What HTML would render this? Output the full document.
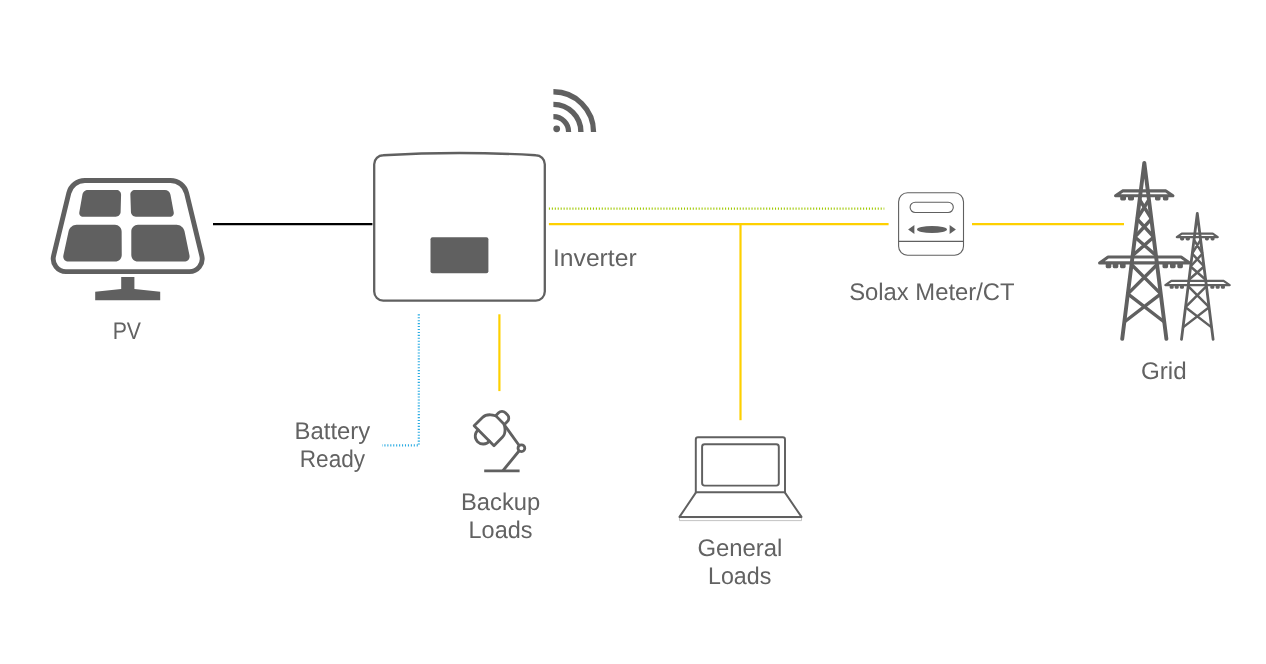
<!DOCTYPE html>
<html lang="en">
<head>
<meta charset="utf-8">
<title>Solax system diagram</title>
<style>
html,body{margin:0;padding:0;background:#fff;}
body{width:1266px;height:664px;overflow:hidden;font-family:"Liberation Sans",sans-serif;}
svg{display:block;will-change:transform;}
</style>
</head>
<body>
<svg width="1266" height="664" viewBox="0 0 1266 664">
<rect width="1266" height="664" fill="#fff"/>
<g id="pv">
<path d="M68.80 193.08 C70.59 185.67 77.23 180.45 84.86 180.45 L170.54 180.45 C178.17 180.45 184.81 185.67 186.60 193.08 L201.82 255.86 C203.76 263.84 197.65 271.60 189.44 271.60 L65.96 271.60 C57.75 271.60 51.64 263.84 53.58 255.86 Z" fill="none" stroke="#606060" stroke-width="4.9" stroke-linejoin="round"/>
<path d="M82.39 194.73 C82.83 192.18 85.31 190.10 87.90 190.10 L116.50 190.10 C119.09 190.10 121.14 192.21 121.08 194.80 L120.62 212.10 C120.56 214.69 118.39 216.80 115.80 216.80 L83.20 216.80 C80.61 216.80 78.87 214.72 79.31 212.17 Z" fill="#606060"/>
<path d="M130.36 194.80 C130.27 192.21 132.31 190.10 134.90 190.10 L164.90 190.10 C167.49 190.10 169.99 192.18 170.47 194.72 L173.73 212.18 C174.21 214.72 172.49 216.80 169.90 216.80 L135.80 216.80 C133.21 216.80 131.03 214.69 130.94 212.10 Z" fill="#606060"/>
<path d="M68.60 231.25 C69.37 227.70 72.97 224.80 76.60 224.80 L115.00 224.80 C118.63 224.80 121.62 227.77 121.64 231.40 L121.76 255.00 C121.78 258.63 118.83 261.60 115.20 261.60 L68.60 261.60 C64.97 261.60 62.63 258.70 63.40 255.15 Z" fill="#606060"/>
<path d="M131.30 231.40 C131.30 227.77 134.27 224.80 137.90 224.80 L176.60 224.80 C180.23 224.80 183.80 227.71 184.53 231.26 L189.47 255.14 C190.20 258.69 187.83 261.60 184.20 261.60 L137.90 261.60 C134.27 261.60 131.30 258.63 131.30 255.00 Z" fill="#606060"/>
<path d="M121.2 277.1 H134.4 V289.1 L160.2 291.8 V300.3 H95.2 V291.8 L121.2 289.1 Z" fill="#606060"/>
</g>
<g id="lines" fill="none">
<line x1="213" y1="224.15" x2="372.4" y2="224.15" stroke="#000" stroke-width="2.2"/>
<line x1="548.9" y1="224.15" x2="888.6" y2="224.15" stroke="#fed000" stroke-width="2.2"/>
<line x1="972" y1="224.15" x2="1124" y2="224.15" stroke="#fed000" stroke-width="2.2"/>
<line x1="740.5" y1="224.15" x2="740.5" y2="420.2" stroke="#fed000" stroke-width="2.2"/>
<line x1="499.4" y1="314.3" x2="499.4" y2="391.1" stroke="#fed000" stroke-width="2.2"/>
<line x1="548.9" y1="208.7" x2="884.3" y2="208.7" stroke="#a0c800" stroke-width="2.2" stroke-dasharray="1.08 1.856"/>
<path d="M418.8 314.3 V445.4 H382.1" stroke="#29abe2" stroke-width="2.2" stroke-dasharray="1.08 1.856"/>
</g>
<g id="inverter">
<path d="M374.2 164.2 A9 9 0 0 1 383.2 155.25 Q459.5 150.75 535.8 155.25 A9 9 0 0 1 544.8 164.2 V291.6 A9 9 0 0 1 535.8 300.6 H383.2 A9 9 0 0 1 374.2 291.6 Z" fill="#fff" stroke="#606060" stroke-width="2.3"/>
<rect x="430.5" y="237.3" width="57.9" height="35.9" rx="2" fill="#606060"/>
</g>
<g id="wifi"><path d="M553.40 91.75 A40.15 40.15 0 0 1 593.55 131.90" fill="none" stroke="#606060" stroke-width="5.3"/><path d="M553.40 104.40 A27.5 27.5 0 0 1 580.90 131.90" fill="none" stroke="#606060" stroke-width="5.4"/><path d="M553.40 116.70 A15.2 15.2 0 0 1 568.60 131.90" fill="none" stroke="#606060" stroke-width="5.2"/><circle cx="556.7" cy="128.8" r="3.4" fill="#606060"/></g>
<g id="meter" fill="none" stroke="#606060" stroke-width="1.1">
<rect x="898.6" y="192.7" width="64.9" height="62.5" rx="9" fill="#fff"/>
<line x1="898.6" y1="241.4" x2="963.5" y2="241.4"/>
<rect x="910.1" y="202.2" width="43.2" height="10.3" rx="5.15"/>
<ellipse cx="932" cy="229.5" rx="15" ry="3.4" fill="#606060" stroke="none"/>
<path d="M908.1 229.5 L914.4 225.1 V233.9 Z" fill="#606060" stroke="none"/>
<path d="M955.9 229.5 L949.6 225.1 V233.9 Z" fill="#606060" stroke="none"/>
</g>
<g id="towers"><path d="M1122.20 338.90 L1144.30 162.85 L1166.40 338.90" fill="none" stroke="#606060" stroke-width="3.9" stroke-linecap="round" stroke-linejoin="round"/>
<path d="M1139.51 199.50 L1151.50 218.90 M1149.09 199.50 L1137.10 218.90 M1137.10 218.90 L1153.75 237.00 M1151.50 218.90 L1134.85 237.00 M1134.85 237.00 L1156.05 255.50 M1153.75 237.00 L1132.55 255.50 M1131.44 264.50 L1160.81 293.90 M1157.16 264.50 L1127.79 293.90 M1127.79 293.90 L1164.30 322.00 M1160.81 293.90 L1124.30 322.00 " fill="none" stroke="#606060" stroke-width="3.43" stroke-linecap="butt"/>
<path d="M1122.60 190.90 L1165.90 190.90 L1172.90 195.80 L1115.60 195.80 Z" fill="none" stroke="#606060" stroke-width="3.1" stroke-linejoin="round"/>
<path d="M1120.20 195.80 h5.80 v3.30 a1.4 1.4 0 0 1 -1.4 1.4 h-3.00 a1.4 1.4 0 0 1 -1.4 -1.4 Z" fill="#606060"/>
<path d="M1128.00 195.80 h6.00 v3.30 a1.4 1.4 0 0 1 -1.4 1.4 h-3.20 a1.4 1.4 0 0 1 -1.4 -1.4 Z" fill="#606060"/>
<path d="M1155.00 195.80 h5.50 v3.30 a1.4 1.4 0 0 1 -1.4 1.4 h-2.70 a1.4 1.4 0 0 1 -1.4 -1.4 Z" fill="#606060"/>
<path d="M1162.90 195.80 h5.50 v3.30 a1.4 1.4 0 0 1 -1.4 1.4 h-2.70 a1.4 1.4 0 0 1 -1.4 -1.4 Z" fill="#606060"/>
<path d="M1108.10 257.00 L1181.10 257.00 L1189.60 262.90 L1099.60 262.90 Z" fill="none" stroke="#606060" stroke-width="3.1" stroke-linejoin="round"/>
<path d="M1105.70 262.90 h5.60 v3.90 a1.4 1.4 0 0 1 -1.4 1.4 h-2.80 a1.4 1.4 0 0 1 -1.4 -1.4 Z" fill="#606060"/>
<path d="M1112.70 262.90 h5.60 v3.90 a1.4 1.4 0 0 1 -1.4 1.4 h-2.80 a1.4 1.4 0 0 1 -1.4 -1.4 Z" fill="#606060"/>
<path d="M1120.00 262.90 h5.60 v3.90 a1.4 1.4 0 0 1 -1.4 1.4 h-2.80 a1.4 1.4 0 0 1 -1.4 -1.4 Z" fill="#606060"/>
<path d="M1162.50 262.90 h5.60 v3.90 a1.4 1.4 0 0 1 -1.4 1.4 h-2.80 a1.4 1.4 0 0 1 -1.4 -1.4 Z" fill="#606060"/>
<path d="M1170.00 262.90 h5.60 v3.90 a1.4 1.4 0 0 1 -1.4 1.4 h-2.80 a1.4 1.4 0 0 1 -1.4 -1.4 Z" fill="#606060"/>
<path d="M1177.30 262.90 h5.60 v3.90 a1.4 1.4 0 0 1 -1.4 1.4 h-2.80 a1.4 1.4 0 0 1 -1.4 -1.4 Z" fill="#606060"/><path d="M1181.49 339.44 L1197.30 213.48 L1213.11 339.44" fill="none" stroke="#606060" stroke-width="2.79045" stroke-linecap="round" stroke-linejoin="round"/>
<path d="M1193.87 239.70 L1202.45 253.58 M1200.73 239.70 L1192.15 253.58 M1192.15 253.58 L1204.06 266.53 M1202.45 253.58 L1190.54 266.53 M1190.54 266.53 L1205.70 279.77 M1204.06 266.53 L1188.90 279.77 M1188.10 286.21 L1209.11 307.24 M1206.50 286.21 L1185.49 307.24 M1185.49 307.24 L1211.61 327.35 M1209.11 307.24 L1182.99 327.35 " fill="none" stroke="#606060" stroke-width="2.46" stroke-linecap="butt"/>
<path d="M1181.77 233.55 L1212.75 233.55 L1217.76 237.05 L1176.77 237.05 Z" fill="none" stroke="#606060" stroke-width="2.2180500000000003" stroke-linejoin="round"/>
<path d="M1180.06 237.05 h4.15 v1.96 a1.4 1.4 0 0 1 -1.4 1.4 h-1.35 a1.4 1.4 0 0 1 -1.4 -1.4 Z" fill="#606060"/>
<path d="M1185.64 237.05 h4.29 v1.96 a1.4 1.4 0 0 1 -1.4 1.4 h-1.49 a1.4 1.4 0 0 1 -1.4 -1.4 Z" fill="#606060"/>
<path d="M1204.96 237.05 h3.94 v1.96 a1.4 1.4 0 0 1 -1.4 1.4 h-1.14 a1.4 1.4 0 0 1 -1.4 -1.4 Z" fill="#606060"/>
<path d="M1210.61 237.05 h3.94 v1.96 a1.4 1.4 0 0 1 -1.4 1.4 h-1.14 a1.4 1.4 0 0 1 -1.4 -1.4 Z" fill="#606060"/>
<path d="M1171.40 280.84 L1223.63 280.84 L1229.71 285.06 L1165.32 285.06 Z" fill="none" stroke="#606060" stroke-width="2.2180500000000003" stroke-linejoin="round"/>
<path d="M1169.68 285.06 h4.01 v2.39 a1.4 1.4 0 0 1 -1.4 1.4 h-1.21 a1.4 1.4 0 0 1 -1.4 -1.4 Z" fill="#606060"/>
<path d="M1174.69 285.06 h4.01 v2.39 a1.4 1.4 0 0 1 -1.4 1.4 h-1.21 a1.4 1.4 0 0 1 -1.4 -1.4 Z" fill="#606060"/>
<path d="M1179.91 285.06 h4.01 v2.39 a1.4 1.4 0 0 1 -1.4 1.4 h-1.21 a1.4 1.4 0 0 1 -1.4 -1.4 Z" fill="#606060"/>
<path d="M1210.32 285.06 h4.01 v2.39 a1.4 1.4 0 0 1 -1.4 1.4 h-1.21 a1.4 1.4 0 0 1 -1.4 -1.4 Z" fill="#606060"/>
<path d="M1215.69 285.06 h4.01 v2.39 a1.4 1.4 0 0 1 -1.4 1.4 h-1.21 a1.4 1.4 0 0 1 -1.4 -1.4 Z" fill="#606060"/>
<path d="M1220.91 285.06 h4.01 v2.39 a1.4 1.4 0 0 1 -1.4 1.4 h-1.21 a1.4 1.4 0 0 1 -1.4 -1.4 Z" fill="#606060"/></g>
<g id="laptop" fill="none" stroke="#606060" stroke-width="1.95" stroke-linejoin="round">
<rect x="679.5" y="517.6" width="122.0" height="3.0" stroke="#b4b4b4" stroke-width="0.8"/>
<path d="M695.8 492.2 V439.4 a2.2 2.2 0 0 1 2.2 -2.2 H782.8 a2.2 2.2 0 0 1 2.2 2.2 V492.2 Z" stroke-linejoin="miter"/>
<rect x="702.1" y="444.2" width="76.7" height="41.4" rx="2.5"/>
<path d="M696.0 492.4 L679.5 516.9 H801.5 L784.8 492.4" />
</g>
<g id="lamp" fill="none" stroke="#606060" stroke-width="2.8" stroke-linejoin="round" stroke-linecap="round">
<path d="M474.13 425.82 L482.47 417.47 C487.07 412.88 495.30 415.31 496.36 416.38 L503.43 423.45 C504.50 424.51 506.93 432.74 502.34 437.34 L493.99 445.68 Z" /><path d="M478.23 429.92 A7.9 7.9 0 1 0 489.33 441.02" /><path d="M495.69 415.70 L498.59 412.80 A4.8 4.8 0 0 1 505.38 412.80 L507.36 414.78 A4.8 4.8 0 0 1 507.36 421.57 L504.46 424.47" />
<line x1="484.2" y1="470.8" x2="519.6" y2="470.8" stroke-linecap="butt"/>
<line x1="503.1" y1="470.5" x2="519.0" y2="451.0"/>
<circle cx="521.4" cy="448.2" r="3.4"/>
<line x1="519.0" y1="445.2" x2="504.6" y2="425.3"/>
</g>
<g id="labels" font-family="'Liberation Sans', sans-serif" fill="#626262" text-rendering="geometricPrecision">
<text x="112.70" y="339.30" font-size="24.0" textLength="28.30" lengthAdjust="spacingAndGlyphs">PV</text>
<text x="553.00" y="266.10" font-size="24.0" textLength="83.60" lengthAdjust="spacingAndGlyphs">Inverter</text>
<text x="294.60" y="438.80" font-size="24.0" textLength="75.60" lengthAdjust="spacingAndGlyphs">Battery</text>
<text x="299.80" y="466.50" font-size="24.0" textLength="65.30" lengthAdjust="spacingAndGlyphs">Ready</text>
<text x="461.00" y="510.30" font-size="24.0" textLength="79.20" lengthAdjust="spacingAndGlyphs">Backup</text>
<text x="468.60" y="538.30" font-size="24.0" textLength="63.80" lengthAdjust="spacingAndGlyphs">Loads</text>
<text x="697.40" y="555.70" font-size="24.0" textLength="85.00" lengthAdjust="spacingAndGlyphs">General</text>
<text x="708.00" y="583.50" font-size="24.0" textLength="63.30" lengthAdjust="spacingAndGlyphs">Loads</text>
<text x="849.20" y="300.10" font-size="24.0" textLength="165.40" lengthAdjust="spacingAndGlyphs">Solax Meter/CT</text>
<text x="1141.00" y="378.70" font-size="24.0" textLength="45.60" lengthAdjust="spacingAndGlyphs">Grid</text>
</g>
</svg>
</body>
</html>
